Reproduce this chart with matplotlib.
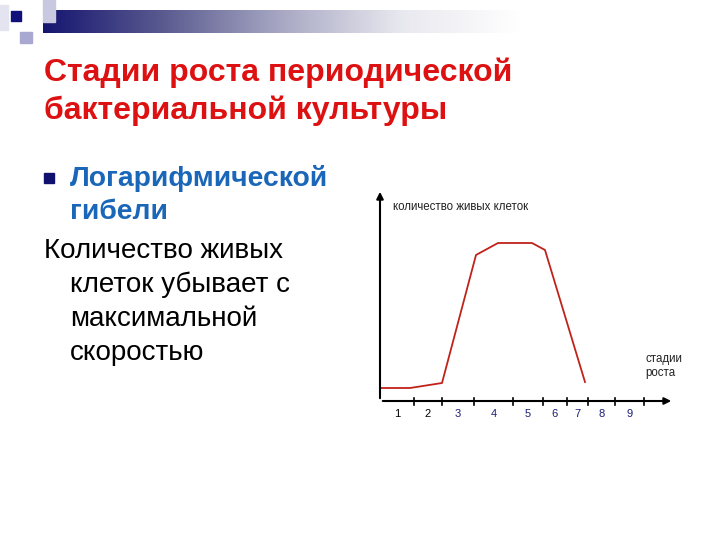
import matplotlib
matplotlib.use('Agg')
import matplotlib.pyplot as plt
import numpy as np
from matplotlib.patches import Rectangle

plt.rcParams['font.family'] = ['Liberation Sans', 'DejaVu Sans']

# slide text
title_lines = ['Стадии роста периодической', 'бактериальной культуры']
bullet_lines = ['Логарифмической', 'гибели']
body_lines = ['Количество живых', 'клеток убывает с', 'максимальной', 'скоростью']

# chart data (arbitrary units along the axes)
curve_x = [0.1, 3.0, 6.2, 9.6, 11.8, 15.2, 16.5, 20.5]
curve_y = [1.3, 1.3, 1.8, 14.6, 15.8, 15.8, 15.1, 1.9]
stage_bounds = [3.4, 6.2, 9.4, 13.3, 16.3, 18.7, 20.8, 23.5, 26.4]
stage_labels = ['1', '2', '3', '4', '5', '6', '7', '8', '9']
label_colors = ['black', 'black'] + ['#1c1c7a'] * 7

fig = plt.figure(figsize=(7.2, 5.4), dpi=100)
fig.patch.set_facecolor('white')

# header decoration
deco = fig.add_axes([0, 0, 1, 1])
deco.set_xlim(0, 720)
deco.set_ylim(540, 0)
deco.axis('off')
grad = np.linspace(0, 1, 256).reshape(1, -1)
cmap = matplotlib.colors.LinearSegmentedColormap.from_list(
    'hdr', ['#151570', '#5a5a90', '#a8a8c4', '#e8e8ef', '#ffffff'])
deco.imshow(grad, cmap=cmap, extent=[43, 520, 33, 10], aspect='auto')
deco.add_patch(Rectangle((43, 0), 12, 22, color='#c8c8e0'))
deco.add_patch(Rectangle((20, 32), 12, 11, color='#a8a8d0'))
deco.add_patch(Rectangle((0, 5), 8, 25, color='#e4e4f0'))
deco.add_patch(Rectangle((11, 11), 10, 10, color='#10107a'))

# title
for i, line in enumerate(title_lines):
    deco.text(44, 73 + i * 38, line, color='#dd1111', fontsize=23,
              fontweight='bold', va='center', ha='left')

# bullet
deco.add_patch(Rectangle((44, 173), 10, 10, color='#10106e'))
for i, line in enumerate(bullet_lines):
    deco.text(70, 178 + i * 34, line, color='#1a66b8', fontsize=20.3,
              fontweight='bold', va='center', ha='left')

for i, line in enumerate(body_lines):
    x = 44 if i == 0 else 70
    deco.text(x, 251 + i * 34, line, color='black', fontsize=20,
              va='center', ha='left')

# chart
ax = fig.add_axes([380 / 720, 139 / 540, 292 / 720, 208 / 540])
ax.set_xlim(0, 29.2)
ax.set_ylim(0, 20.8)
ax.axis('off')
ax.annotate('', xy=(29.4, 0), xytext=(0, 0),
            arrowprops=dict(arrowstyle='-|>', color='black', lw=1.5,
                            mutation_scale=10), annotation_clip=False)
ax.annotate('', xy=(0, 21.2), xytext=(0, 0),
            arrowprops=dict(arrowstyle='-|>', color='black', lw=1.5,
                            mutation_scale=10), annotation_clip=False)
for b in stage_bounds:
    ax.plot([b, b], [-0.35, 0.35], color='black', lw=1.2, clip_on=False)
centers = [(a + b) / 2 for a, b in zip([0] + stage_bounds[:-1], stage_bounds)]
for c, lab, col in zip(centers, stage_labels, label_colors):
    ax.text(c, -1.3, lab, color=col, fontsize=8, ha='center', va='center')

ax.plot(curve_x, curve_y, color='#c0221a', lw=1.3, clip_on=False)

ax.text(1.3, 19.4, 'количество живых клеток', fontsize=8.3, color='#222222',
        ha='left', va='center')
ax.text(26.5, 3.5, 'стадии\nроста', fontsize=8.3, color='#222222',
        ha='left', va='center', linespacing=1.2)

fig.savefig('out.png', dpi=100)
